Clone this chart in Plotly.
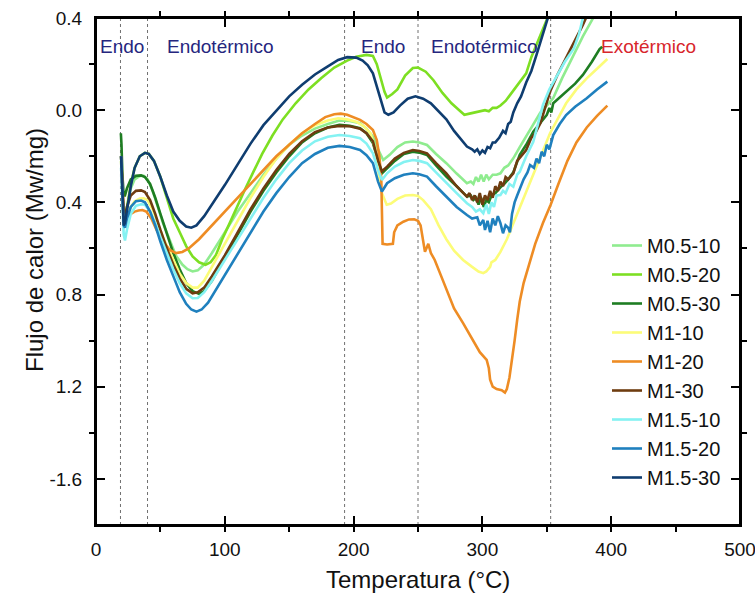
import plotly.graph_objects as go

# ---------------- data ----------------
SERIES_NAMES = ["M0.5-10", "M0.5-20", "M0.5-30", "M1-10", "M1-20", "M1-30",
                "M1.5-10", "M1.5-20", "M1.5-30"]

# each series: (Temperatura °C, Flujo de calor Mw/mg)
M05_10 = [(19.5,-0.22),(20.5,-0.35),(21.5,-0.47),(22.5,-0.47),(24,-0.42),(27,-0.34),(30,-0.30),
          (34,-0.285),(37,-0.285),(40,-0.30),(44,-0.35),(48,-0.42),(52,-0.49),(57,-0.56),(62,-0.63),
          (67,-0.67),(71,-0.69),(75,-0.70),(79,-0.695),(84,-0.67),(90,-0.62),(100,-0.53),(110,-0.44),
          (120,-0.36),(130,-0.28),(140,-0.21),(150,-0.15),(160,-0.11),(170,-0.08),(180,-0.06),
          (189,-0.045),(197,-0.047),(205,-0.057),(210,-0.08),(215,-0.115),(219,-0.17),(223,-0.216),
          (228,-0.194),(234,-0.16),(240,-0.14),(246,-0.136),(251,-0.14),(257,-0.151),(264,-0.19),
          (272,-0.23),(280,-0.275),(288,-0.317),(291,-0.31),(293,-0.32),(295,-0.29),(297,-0.31),
          (299,-0.28),(301,-0.31),(303,-0.28),(305,-0.30),(308,-0.28),(311,-0.28),(314,-0.274),
          (317,-0.25),(320,-0.24),(324,-0.209),(329,-0.16),(334,-0.115),(340,-0.06),(345,-0.01),
          (350,0.02),(355,0.053),(362,0.14),(371,0.24),(378,0.32),(386,0.40),(390,0.45)]

M05_20 = [(19.5,-0.20),(20.5,-0.35),(21.5,-0.49),(22.5,-0.48),(24,-0.42),(27,-0.32),(30,-0.25),
          (34,-0.20),(38,-0.185),(41,-0.19),(45,-0.22),(50,-0.29),(55,-0.38),(60,-0.47),(65,-0.53),
          (70,-0.59),(75,-0.635),(80,-0.66),(85,-0.671),(89,-0.66),(93,-0.63),(98,-0.56),(103,-0.50),
          (110,-0.41),(116,-0.34),(122,-0.27),(129,-0.19),(137,-0.11),(145,-0.04),(155,0.03),
          (165,0.09),(175,0.14),(185,0.185),(195,0.215),(202,0.232),(210,0.24),(215,0.235),(218,0.20),
          (221,0.14),(224,0.08),(226,0.055),(230,0.07),(234,0.09),(240,0.15),(246,0.183),(250,0.185),
          (256,0.167),(262,0.13),(269,0.075),(276,0.03),(282,0.0),(286,-0.02),(290,-0.015),
          (294,-0.01),(298,-0.005),(302,0.0),(305,-0.005),(308,0.01),(311,0.01),(314,0.02),
          (318,0.04),(322,0.07),(324,0.09),(327,0.11),(330,0.13),(334,0.16),(338,0.23),(341,0.27),
          (345,0.33),(348,0.37),(352,0.42)]

M05_30 = [(19.3,-0.10),(19.8,-0.15),(20.5,-0.28),(21.5,-0.37),(22.5,-0.37),(24,-0.34),(27,-0.30),
          (31,-0.285),(35,-0.283),(38,-0.29),(42,-0.32),(46,-0.38),(50,-0.45),(55,-0.54),(60,-0.62),
          (65,-0.69),(70,-0.75),(75,-0.785),(80,-0.797),(84,-0.785),(90,-0.74),(100,-0.64),
          (110,-0.54),(120,-0.44),(130,-0.35),(140,-0.27),(150,-0.20),(160,-0.14),(170,-0.10),
          (180,-0.075),(189,-0.064),(197,-0.068),(205,-0.078),(210,-0.10),(215,-0.143),(219,-0.22),
          (222,-0.274),(226,-0.252),(232,-0.22),(239,-0.19),(246,-0.18),(251,-0.184),(257,-0.194),
          (264,-0.24),(272,-0.288),(280,-0.33),(288,-0.375),(291,-0.37),(293,-0.39),(295,-0.38),
          (297,-0.41),(299,-0.38),(301,-0.42),(303,-0.39),(305,-0.40),(307,-0.37),(310,-0.36),
          (314,-0.335),(317,-0.32),(320,-0.30),(324,-0.27),(329,-0.194),(334,-0.15),(339.5,-0.093),
          (344,-0.06),(348,-0.03),(350,-0.02),(352,0.01),(353.5,-0.01),(355,0.03),(360,0.055),
          (365,0.08),(372,0.115),(378,0.153),(385,0.21),(391,0.265),(393,0.275)]

M1_10 = [(19.5,-0.22),(20.5,-0.35),(21.5,-0.48),(22.5,-0.50),(24,-0.46),(27,-0.42),(30,-0.395),
         (34,-0.383),(37,-0.382),(40,-0.39),(44,-0.43),(48,-0.49),(52,-0.55),(56,-0.60),(60,-0.65),
         (65,-0.71),(70,-0.75),(75,-0.77),(79,-0.77),(84,-0.74),(90,-0.68),(100,-0.58),(110,-0.48),
         (120,-0.38),(130,-0.29),(140,-0.21),(150,-0.15),(160,-0.10),(170,-0.065),(180,-0.045),
         (188,-0.035),(195,-0.04),(202,-0.05),(208,-0.07),(213,-0.10),(217,-0.17),(220,-0.30),
         (222,-0.36),(225.7,-0.41),(229,-0.405),(234,-0.385),(240,-0.37),(246,-0.368),(250,-0.372),
         (254,-0.39),(260,-0.43),(266,-0.50),(272,-0.56),(278,-0.61),(285,-0.65),(292,-0.68),
         (297,-0.70),(300.7,-0.707),(303,-0.70),(306,-0.68),(307,-0.66),(310,-0.65),(314,-0.615),
         (319,-0.56),(324,-0.49),(329,-0.42),(334,-0.35),(339.5,-0.28),(346,-0.19),(352.5,-0.10),
         (359,-0.03),(365,0.03),(373,0.09),(381,0.138),(389,0.18),(397,0.222)]

M1_20 = [(19.5,-0.20),(20.5,-0.33),(21.5,-0.45),(22.5,-0.47),(24,-0.46),(27,-0.45),(30,-0.44),
         (33,-0.435),(36,-0.433),(39,-0.44),(43,-0.47),(47,-0.52),(52,-0.57),(57,-0.605),(62,-0.62),
         (67,-0.615),(72,-0.60),(80,-0.56),(90,-0.50),(100,-0.44),(110,-0.38),(120,-0.32),
         (130,-0.26),(140,-0.20),(150,-0.15),(160,-0.10),(170,-0.06),(178,-0.03),(185,-0.018),
         (190,-0.015),(195,-0.02),(200,-0.03),(205,-0.042),(210,-0.06),(215,-0.086),(218,-0.13),
         (220,-0.20),(221.5,-0.30),(222,-0.45),(222.5,-0.58),(226,-0.583),(230.5,-0.58),
         (231.5,-0.53),(234,-0.50),(238.6,-0.484),(243,-0.474),(247,-0.473),(250,-0.48),(252,-0.50),
         (254,-0.56),(255.4,-0.614),(256.5,-0.60),(258,-0.58),(260,-0.62),(263,-0.65),(268,-0.72),
         (272.3,-0.78),(278,-0.86),(285,-0.924),(292,-0.99),(298,-1.05),(303.3,-1.083),(305,-1.12),
         (306,-1.17),(308,-1.20),(311,-1.21),(315,-1.215),(317.5,-1.225),(319,-1.21),(321,-1.16),
         (323,-1.09),(325,-1.00),(327,-0.91),(329,-0.83),(332,-0.75),(336,-0.67),(341,-0.58),
         (347,-0.49),(353,-0.41),(359,-0.32),(366,-0.22),(373,-0.14),(381,-0.075),(389,-0.025),
         (397,0.02)]

M1_30 = [(19.5,-0.20),(20.5,-0.33),(21.5,-0.45),(22.5,-0.46),(24,-0.42),(27,-0.37),(31,-0.35),
         (35,-0.348),(38,-0.355),(42,-0.39),(46,-0.45),(50,-0.52),(55,-0.60),(60,-0.67),(65,-0.73),
         (70,-0.775),(75,-0.795),(79,-0.79),(84,-0.77),(90,-0.72),(100,-0.63),(110,-0.53),
         (120,-0.43),(130,-0.34),(140,-0.26),(150,-0.19),(160,-0.135),(170,-0.095),(180,-0.075),
         (189,-0.068),(197,-0.07),(205,-0.08),(210,-0.10),(215,-0.135),(219,-0.22),(222,-0.265),
         (226,-0.245),(232,-0.21),(239,-0.185),(246,-0.173),(251,-0.177),(257,-0.187),(264,-0.23),
         (272,-0.274),(280,-0.33),(288,-0.375),(290,-0.36),(292,-0.39),(294,-0.37),(296,-0.40),
         (298,-0.36),(300,-0.41),(302,-0.37),(304,-0.39),(306,-0.35),(308,-0.38),(310,-0.33),
         (312,-0.35),(314,-0.31),(316,-0.33),(318,-0.29),(320,-0.30),(324,-0.274),(327,-0.22),
         (330,-0.20),(334,-0.173),(338,-0.12),(341,-0.10),(345,-0.057),(348,0.0),(352.5,0.08),
         (358,0.15),(365,0.225),(372,0.30),(378,0.37),(382,0.42)]

M15_10 = [(19.5,-0.25),(20.5,-0.40),(21.5,-0.54),(22.5,-0.565),(24,-0.52),(27,-0.45),(31,-0.415),
          (35,-0.408),(38,-0.41),(42,-0.44),(46,-0.49),(50,-0.55),(55,-0.62),(60,-0.69),(65,-0.75),
          (70,-0.795),(75,-0.816),(79,-0.815),(84,-0.79),(90,-0.74),(100,-0.65),(110,-0.56),
          (120,-0.47),(130,-0.38),(140,-0.30),(150,-0.23),(160,-0.175),(170,-0.135),(180,-0.115),
          (189,-0.108),(197,-0.112),(205,-0.122),(210,-0.145),(215,-0.187),(219,-0.26),(222,-0.303),
          (226,-0.274),(232,-0.245),(239,-0.225),(246,-0.216),(251,-0.22),(257,-0.23),(264,-0.27),
          (272,-0.317),(280,-0.36),(288,-0.404),(292,-0.42),(295,-0.44),(298,-0.43),(300.7,-0.447),
          (303,-0.41),(305,-0.45),(307,-0.40),(309,-0.42),(311,-0.37),(314,-0.368),(316,-0.35),
          (318,-0.36),(321,-0.32),(324,-0.332),(327,-0.28),(329,-0.267),(334,-0.20),(339.5,-0.137),
          (343,-0.06),(347,0.023),(352,0.09),(358,0.153),(364,0.21),(371,0.268),(375,0.33),
          (378,0.40),(380,0.43)]

M15_20 = [(19.5,-0.20),(20.5,-0.35),(21.5,-0.50),(22.5,-0.51),(24,-0.47),(27,-0.42),(31,-0.395),
          (35,-0.392),(38,-0.40),(42,-0.44),(46,-0.50),(50,-0.57),(55,-0.65),(60,-0.72),(65,-0.79),
          (70,-0.84),(74,-0.865),(78,-0.874),(82,-0.865),(87,-0.835),(93,-0.78),(100,-0.71),
          (110,-0.62),(120,-0.53),(130,-0.44),(140,-0.36),(150,-0.29),(160,-0.23),(170,-0.19),
          (180,-0.163),(189,-0.155),(197,-0.16),(205,-0.173),(210,-0.195),(215,-0.23),(219,-0.31),
          (222,-0.353),(226,-0.317),(232,-0.295),(239,-0.28),(246,-0.274),(251,-0.278),(257,-0.288),
          (264,-0.33),(272,-0.375),(280,-0.42),(288,-0.455),(292,-0.47),(296,-0.465),(298,-0.50),
          (300.7,-0.476),(302,-0.52),(304,-0.48),(306,-0.53),(308,-0.47),(310,-0.50),(312,-0.46),
          (314,-0.49),(316,-0.534),(318,-0.50),(320,-0.51),(321.4,-0.53),(323,-0.45),(325,-0.40),
          (327,-0.37),(329,-0.339),(332,-0.30),(335,-0.27),(337,-0.238),(340,-0.25),(342,-0.21),
          (344,-0.23),(346,-0.18),(348,-0.20),(350,-0.15),(352,-0.17),(355,-0.108),(360,-0.06),
          (365,-0.021),(372,0.015),(381,0.052),(389,0.09),(397,0.124)]

M15_30 = [(19.5,-0.20),(20.5,-0.35),(21.5,-0.50),(22.5,-0.49),(24,-0.43),(27,-0.33),(30,-0.25),
          (34,-0.20),(38,-0.185),(41,-0.19),(45,-0.22),(50,-0.29),(55,-0.37),(60,-0.44),(65,-0.48),
          (70,-0.505),(74,-0.51),(78,-0.50),(84,-0.46),(90,-0.41),(100,-0.325),(110,-0.235),
          (120,-0.145),(130,-0.065),(140,0.0),(150,0.06),(160,0.11),(170,0.155),(180,0.19),
          (188,0.218),(195,0.23),(202,0.228),(207,0.215),(211,0.195),(215,0.16),(218,0.10),
          (221,0.04),(224,-0.01),(227,-0.02),(231,-0.01),(236,0.02),(242,0.05),(248,0.06),
          (254,0.05),(260,0.03),(266,-0.005),(272,-0.04),(278,-0.09),(284,-0.13),(288,-0.158),
          (292,-0.17),(294,-0.18),(296,-0.17),(298,-0.19),(300,-0.175),(302,-0.185),(304,-0.16),
          (306,-0.165),(308,-0.14),(310,-0.14),(313,-0.12),(316,-0.09),(318,-0.10),(320,-0.06),
          (322,-0.05),(324,-0.01),(327,0.03),(330,0.06),(334,0.12),(338,0.17),(342,0.24),
          (346,0.31),(350,0.38),(353,0.44)]

SERIES_DATA = [M05_10, M05_20, M05_30, M1_10, M1_20, M1_30, M15_10, M15_20, M15_30]

X_TICKS = [0, 100, 200, 300, 400, 500]
Y_TICK_VALUES = [0.4, 0.0, -0.4, -0.8, -1.2, -1.6]
Y_TICK_LABELS = ["0.4", "0.0", "0.4", "0.8", "1.2", "-1.6"]   # as printed in the original
Y_MINOR_VALUES = [0.2, -0.2, -0.6, -1.0, -1.4]

BOUNDARIES = [19, 40, 193, 250, 353]                # dotted region limits (°C)
REGION_LABELS = ["Endo", "Endotérmico", "Endo", "Endotérmico", "Exotérmico"]
REGION_CENTERS = [19.8, 96.3, 223.2, 302, 428.8]
REGION_KIND = ["endo", "endo", "endo", "endo", "exo"]

# ---------------- styling ----------------
COLORS = ["#8fec8f", "#7ddf22", "#1e7d22", "#fcfc78", "#ee8c24",
          "#6e3c10", "#84f2f2", "#1f80be", "#0f3d70"]
FONT = "Liberation Sans, Arial, Helvetica, sans-serif"
BLUE_TXT = "#26267e"
RED_TXT = "#d8262c"

FIG_W, FIG_H = 755, 594
M_L, M_R, M_T, M_B = 96, 15, 18, 69
PW = FIG_W - M_L - M_R
PH = FIG_H - M_T - M_B

fig = go.Figure()
for name, data, col in zip(SERIES_NAMES, SERIES_DATA, COLORS):
    fig.add_trace(go.Scatter(
        x=[p[0] for p in data], y=[p[1] for p in data],
        mode="lines", name=name,
        line=dict(color=col, width=2.6),
        cliponaxis=True,
    ))

shapes = [dict(type="line", xref="x", yref="paper", x0=b, x1=b, y0=0, y1=1,
               line=dict(color="#707070", width=1, dash="dot"), layer="below")
          for b in BOUNDARIES]
# plot frame (top / right edges of the box)
shapes.append(dict(type="rect", xref="paper", yref="paper", x0=0, x1=1, y0=0, y1=1,
                   line=dict(color="black", width=2), fillcolor="rgba(0,0,0,0)",
                   layer="above"))

annotations = []
for txt, xc, kind in zip(REGION_LABELS, REGION_CENTERS, REGION_KIND):
    annotations.append(dict(
        x=xc, y=0.278, xref="x", yref="y", text=txt, showarrow=False,
        xanchor="center", yanchor="middle",
        font=dict(family=FONT, size=19, color=RED_TXT if kind == "exo" else BLUE_TXT)))

# axis titles, placed relative to the plot area (px -> paper)
annotations.append(dict(
    x=(418 - M_L) / PW, y=(FIG_H - M_B - 579) / PH, xref="paper", yref="paper",
    text="Temperatura (°C)", showarrow=False, xanchor="center", yanchor="middle",
    font=dict(family=FONT, size=24, color="#111")))
annotations.append(dict(
    x=(34 - M_L) / PW, y=(FIG_H - M_B - 250) / PH, xref="paper", yref="paper",
    text="Flujo de calor (Mw/mg)", showarrow=False, textangle=-90,
    xanchor="center", yanchor="middle",
    font=dict(family=FONT, size=24, color="#111")))

axis_common = dict(showline=True, linewidth=2, linecolor="black", showgrid=False,
                   zeroline=False, tickcolor="black", tickwidth=2, mirror="ticks")

fig.update_layout(
    width=FIG_W, height=FIG_H,
    margin=dict(l=M_L, r=M_R, t=M_T, b=M_B, autoexpand=False),
    plot_bgcolor="white", paper_bgcolor="white",
    font=dict(family=FONT, color="#111"),
    shapes=shapes, annotations=annotations,
    legend=dict(x=(607 - M_L) / PW, y=(FIG_H - M_B - 226) / PH, xanchor="left", yanchor="top",
                font=dict(family=FONT, size=20, color="#111"),
                bgcolor="rgba(0,0,0,0)", tracegroupgap=0, itemwidth=30),
    xaxis=dict(range=[0, 500], tickmode="array", tickvals=X_TICKS,
               ticks="inside", ticklen=9, tickfont=dict(size=19, family=FONT, color="#111"),
               ticklabelstandoff=6, ticklabeloverflow="allow",
               minor=dict(dtick=50, tick0=0, ticks="outside", ticklen=5,
                          tickwidth=2, tickcolor="black"),
               **axis_common),
    yaxis=dict(range=[-1.8, 0.4], tickmode="array", tickvals=Y_TICK_VALUES,
               ticktext=Y_TICK_LABELS, ticks="inside", ticklen=9,
               tickfont=dict(size=19, family=FONT, color="#111"), ticklabelstandoff=8,
               ticklabeloverflow="allow",
               minor=dict(tickmode="array", tickvals=Y_MINOR_VALUES, ticks="outside",
                          ticklen=5, tickwidth=2, tickcolor="black"),
               **axis_common),
)

# the page body has a default 8 px margin; remove it so the figure sits at (0, 0)
fig.write_html("out.html", config={"displayModeBar": False},
               post_script="document.body.style.margin='0px';")
